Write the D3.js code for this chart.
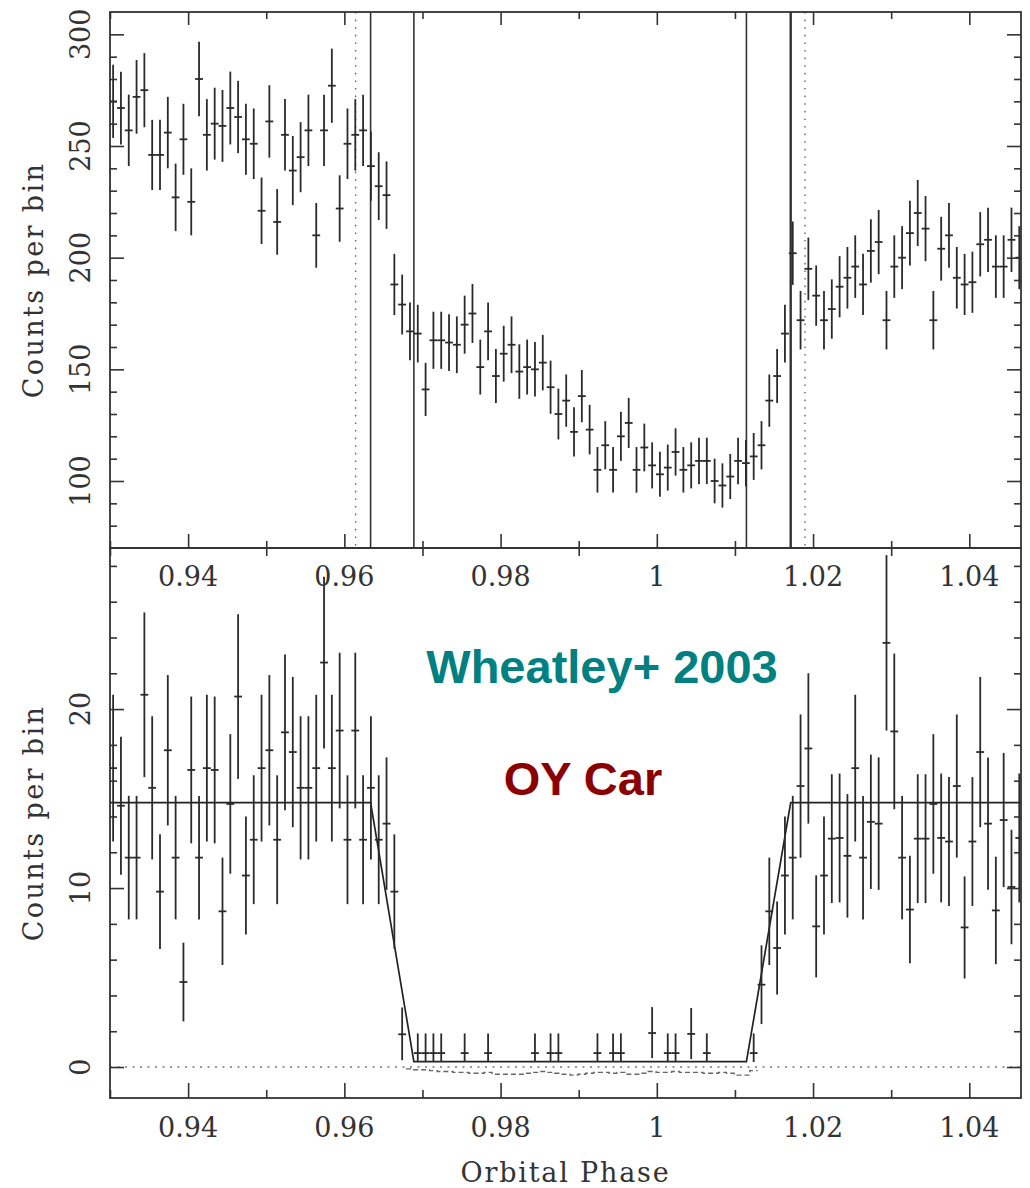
<!DOCTYPE html>
<html>
<head>
<meta charset="utf-8">
<script src="https://cdn.jsdelivr.net/npm/d3@7"></script>
<style>
  html, body { margin: 0; padding: 0; background: #fff; }
  svg { display: block; }
  .tick-label { font-family: "DejaVu Serif", serif; font-size: 27px; fill: #333; }
  .axis-title { font-family: "DejaVu Serif", serif; font-size: 27px; fill: #333; }
</style>
</head>
<body>
<svg id="chart" width="1030" height="1188"></svg>
<script>
// ---------- DATA ----------
// bin centres: orbital phase, first bin and bin width (bins are contiguous)
const binStart = 0.9304;
const binWidth = 0.001;

// Upper panel: counts per bin (0.9304 ... 1.0464)
const topCounts = [
  270, 267, 257, 272, 275, 246, 246, 256, 227, 253,
  225, 280, 255, 260, 259, 267, 263, 253, 251, 221,
  261, 216, 255, 239, 245, 257, 210, 257, 277, 222,
  251, 255, 257, 241, 232, 228, 188, 179, 167, 166,
  141, 163, 163, 162, 161, 170, 175, 151, 167, 147,
  157, 161, 149, 151, 150, 153, 142, 130, 136, 122,
  138, 123, 105, 116, 105, 120, 126, 105, 115, 107,
  103, 106, 113, 105, 107, 109, 109, 100, 98, 102,
  109, 108, 111, 116, 136, 147, 166, 202, 172, 195,
  183, 172, 177, 187, 191, 196, 188, 203, 207, 172,
  196, 200, 211, 220, 213, 172, 204, 210, 191, 188,
  189, 206, 208, 196, 196, 208, 200
];
const topErr = [
  16.4, 16.3, 16.0, 16.5, 16.6, 15.7, 15.7, 16.0, 15.1, 15.9,
  15.0, 16.7, 16.0, 16.1, 16.1, 16.3, 16.2, 15.9, 15.8, 14.9,
  16.2, 14.7, 16.0, 15.5, 15.7, 16.0, 14.5, 16.0, 16.6, 14.9,
  15.8, 16.0, 16.0, 15.5, 15.2, 15.1, 13.7, 13.4, 12.9, 12.9,
  11.9, 12.8, 12.8, 12.7, 12.7, 13.0, 13.2, 12.3, 12.9, 12.1,
  12.5, 12.7, 12.2, 12.3, 12.2, 12.4, 11.9, 11.4, 11.7, 11.0,
  11.7, 11.1, 10.2, 10.8, 10.2, 11.0, 11.2, 10.2, 10.7, 10.3,
  10.1, 10.3, 10.6, 10.2, 10.3, 10.4, 10.4, 10.0, 9.9, 10.1,
  10.4, 10.4, 10.5, 10.8, 11.7, 12.1, 12.9, 14.2, 13.1, 14.0,
  13.5, 13.1, 13.3, 13.7, 13.8, 14.0, 13.7, 14.2, 14.4, 13.1,
  14.0, 14.1, 14.5, 14.8, 14.6, 13.1, 14.3, 14.5, 13.8, 13.7,
  13.7, 14.4, 14.4, 14.0, 14.0, 14.4, 14.1
];

// Lower panel: counts per bin (null = empty bin, not plotted)
const botCounts = [
  16.7, 14.6, 11.7, 11.7, 20.8, 15.6, 9.8, 17.7, 11.7, 4.75,
  16.6, 11.7, 16.7, 16.6, 8.7, 14.7, 20.7, 10.7, 12.7, 16.7,
  17.7, 12.7, 18.7, 17.6, 15.6, 15.6, 16.7, 22.6, 16.7, 18.8,
  12.7, 18.8, 12.7, 15.6, 12.7, 13.6, 9.8, 1.83, null, 0.78,
  0.78, 0.78, 0.78, null, null, 0.78, null, null, 0.78, null,
  null, null, null, null, 0.78, null, 0.78, 0.78, null, null,
  null, null, 0.78, null, 0.78, 0.78, null, null, null, 1.9,
  null, 0.78, 0.78, null, 1.85, null, 0.78, null, null, null,
  null, null, 0.78, 4.6, 8.7, 6.65, 10.7, 11.7, 15.7, 17.8,
  7.86, 10.7, 12.76, 12.8, 11.8, 16.7, 11.7, 13.7, 13.6, 23.7,
  18.75, 11.7, 8.8, 12.76, 12.76, 14.7, 12.8, 12.6, 15.7, 7.8,
  12.6, 17.6, 13.6, 8.75, 13.8, 10.06, 12.8
];
const botErrUp = [
  4.1, 3.85, 3.45, 3.45, 4.6, 4.0, 3.2, 4.2, 3.45, 2.2,
  4.1, 3.45, 4.1, 4.1, 3.0, 3.9, 4.6, 3.3, 3.6, 4.1,
  4.2, 3.6, 4.35, 4.2, 4.0, 4.0, 4.1, 4.8, 4.1, 4.35,
  3.6, 4.35, 3.6, 4.0, 3.6, 3.7, 3.2, 1.5, null, 1.1,
  1.1, 1.1, 1.1, null, null, 1.1, null, null, 1.1, null,
  null, null, null, null, 1.1, null, 1.1, 1.1, null, null,
  null, null, 1.1, null, 1.1, 1.1, null, null, null, 1.45,
  null, 1.1, 1.1, null, 1.45, null, 1.1, null, null, null,
  null, null, 1.1, 2.2, 3.0, 2.6, 3.3, 3.45, 4.0, 4.2,
  2.85, 3.3, 3.6, 3.6, 3.45, 4.1, 3.45, 3.75, 3.7, 4.9,
  4.35, 3.45, 3.0, 3.6, 3.6, 3.9, 3.6, 3.6, 4.0, 2.85,
  3.6, 4.2, 3.7, 3.0, 3.75, 3.2, 3.6
];
const botErrDown = [
  4.1, 3.85, 3.45, 3.45, 4.6, 4.0, 3.2, 4.2, 3.45, 2.2,
  4.1, 3.45, 4.1, 4.1, 3.0, 3.9, 4.6, 3.3, 3.6, 4.1,
  4.2, 3.6, 4.35, 4.2, 4.0, 4.0, 4.1, 4.8, 4.1, 4.35,
  3.6, 4.35, 3.6, 4.0, 3.6, 3.7, 3.2, 1.45, null, 0.5,
  0.5, 0.5, 0.5, null, null, 0.5, null, null, 0.5, null,
  null, null, null, null, 0.5, null, 0.5, 0.5, null, null,
  null, null, 0.5, null, 0.5, 0.5, null, null, null, 1.4,
  null, 0.5, 0.5, null, 1.4, null, 0.5, null, null, null,
  null, null, 0.5, 2.2, 3.0, 2.6, 3.3, 3.45, 4.0, 4.2,
  2.85, 3.3, 3.6, 3.6, 3.45, 4.1, 3.45, 3.75, 3.7, 4.9,
  4.35, 3.45, 3.0, 3.6, 3.6, 3.9, 3.6, 3.6, 4.0, 2.85,
  3.6, 4.2, 3.7, 3.0, 3.75, 3.2, 3.6
];

// Eclipse model (lower panel): phase / level
const modelPhase = [0.93, 0.96336, 0.9689, 1.01147, 1.01714, 1.0466];
const modelLevel = [14.77, 14.77, 0.3, 0.3, 14.77, 14.77];

// Dashed background level during totality (bins 38 ... 82)
const bgFirstBin = 38;
const bgLevel = [
  -0.1, -0.15, -0.15, -0.2, -0.25, -0.25, -0.3, -0.3, -0.35, -0.35,
  -0.3, -0.4, -0.4, -0.4, -0.4, -0.35, -0.3, -0.25, -0.3, -0.35,
  -0.4, -0.45, -0.4, -0.35, -0.3, -0.3, -0.35, -0.3, -0.4, -0.4,
  -0.35, -0.25, -0.3, -0.3, -0.25, -0.3, -0.3, -0.3, -0.35, -0.35,
  -0.3, -0.35, -0.45, -0.45, -0.2
];

// Contact phases (upper panel): solid and dotted markers
const contactSolid = [0.96336, 0.9689, 1.01147, 1.01714];
const contactDotted = [0.96144, 1.01897];

// Axis ticks
const xMajor = [0.94, 0.96, 0.98, 1.00, 1.02, 1.04];
const xMajorLabels = ["0.94", "0.96", "0.98", "1", "1.02", "1.04"];
const xMinor = [0.93, 0.95, 0.97, 0.99, 1.01, 1.03];
const yTopMajor = [100, 150, 200, 250, 300];
const yTopMinor = [80, 90, 110, 120, 130, 140, 160, 170, 180, 190, 210, 220, 230, 240, 260, 270, 280, 290];
const yBotMajor = [0, 10, 20];
const yBotMinor = [2, 4, 6, 8, 12, 14, 16, 18, 22, 24, 26, 28];

const yTitle = "Counts per bin";
const xTitle = "Orbital Phase";
const note1 = "Wheatley+ 2003";
const note2 = "OY Car";

// ---------- LAYOUT ----------
const L = 110, R = 1021;
const topT = 12, topB = 548, botT = 548, botB = 1098;

const svg = d3.select("#chart");
const x = d3.scaleLinear().domain([0.93, 1.04662]).range([L, R]);
const yTop = d3.scaleLinear().domain([70, 310]).range([topB, topT]);
const yBot = d3.scaleLinear().domain([-1.73, 29]).range([botB, botT]);

const phases = topCounts.map((_, i) => binStart + i * binWidth);

const defs = svg.append("defs");
defs.append("clipPath").attr("id", "clipTop").append("rect")
  .attr("x", L).attr("y", topT).attr("width", R - L).attr("height", topB - topT);
defs.append("clipPath").attr("id", "clipBot").append("rect")
  .attr("x", L).attr("y", botT).attr("width", R - L).attr("height", botB - botT);

const ink = "#2a2a2a";
const barW = 1.8;

function ticksAxis(gen, tf, vals, size) {
  const g = svg.append("g").attr("transform", tf)
    .call(gen.tickValues(vals).tickSize(size).tickFormat(""));
  g.select(".domain").remove();
  g.selectAll(".tick line").attr("stroke", "#333").attr("stroke-width", 1.6);
  return g;
}

// ---------- TOP PANEL ----------
const gTop = svg.append("g").attr("clip-path", "url(#clipTop)");

// contact lines
gTop.selectAll("line.solid").data(contactSolid).join("line")
  .attr("x1", d => x(d)).attr("x2", d => x(d))
  .attr("y1", topT).attr("y2", topB)
  .attr("stroke", "#333").attr("stroke-width", (d, i) => i === 3 ? 2.4 : 1.6);
gTop.selectAll("line.dot").data(contactDotted).join("line")
  .attr("x1", d => x(d)).attr("x2", d => x(d))
  .attr("y1", topT).attr("y2", topB)
  .attr("stroke", "#666").attr("stroke-width", 1.4)
  .attr("stroke-dasharray", "1.6,6");

const topPts = topCounts.map((v, i) => ({ p: phases[i], v, e: topErr[i] }));
gTop.selectAll("line.ev").data(topPts).join("line")
  .attr("x1", d => x(d.p)).attr("x2", d => x(d.p))
  .attr("y1", d => yTop(d.v - d.e)).attr("y2", d => yTop(d.v + d.e))
  .attr("stroke", ink).attr("stroke-width", barW);
gTop.selectAll("line.eh").data(topPts).join("line")
  .attr("x1", d => x(d.p - binWidth / 2)).attr("x2", d => x(d.p + binWidth / 2))
  .attr("y1", d => yTop(d.v)).attr("y2", d => yTop(d.v))
  .attr("stroke", ink).attr("stroke-width", barW);

// ---------- BOTTOM PANEL ----------
const gBot = svg.append("g").attr("clip-path", "url(#clipBot)");

// zero line (dotted)
gBot.append("line")
  .attr("x1", L).attr("x2", R).attr("y1", yBot(0)).attr("y2", yBot(0))
  .attr("stroke", "#777").attr("stroke-width", 1.4).attr("stroke-dasharray", "2,5.5");

// dashed background step line during totality
const bgPts = [];
bgLevel.forEach((v, j) => {
  const p = phases[bgFirstBin + j];
  bgPts.push([p - binWidth / 2, v], [p + binWidth / 2, v]);
});
gBot.append("path")
  .attr("d", d3.line().x(d => x(d[0])).y(d => yBot(d[1]))(bgPts))
  .attr("fill", "none").attr("stroke", "#666").attr("stroke-width", 1.4)
  .attr("stroke-dasharray", "5,3");

// model
gBot.append("path")
  .attr("d", d3.line().x(d => x(d[0])).y(d => yBot(d[1]))(modelPhase.map((p, i) => [p, modelLevel[i]])))
  .attr("fill", "none").attr("stroke", "#222").attr("stroke-width", 1.7);

const botPts = botCounts.map((v, i) => ({ p: phases[i], v, eu: botErrUp[i], ed: botErrDown[i] }))
  .filter(d => d.v !== null);
gBot.selectAll("line.ev").data(botPts).join("line")
  .attr("x1", d => x(d.p)).attr("x2", d => x(d.p))
  .attr("y1", d => yBot(d.v - d.ed)).attr("y2", d => yBot(d.v + d.eu))
  .attr("stroke", ink).attr("stroke-width", barW);
gBot.selectAll("line.eh").data(botPts).join("line")
  .attr("x1", d => x(d.p - binWidth / 2)).attr("x2", d => x(d.p + binWidth / 2))
  .attr("y1", d => yBot(d.v)).attr("y2", d => yBot(d.v))
  .attr("stroke", ink).attr("stroke-width", barW);

// ---------- FRAMES & TICKS ----------
[[topT, topB], [botT, botB]].forEach(([t, b]) => {
  svg.append("rect").attr("x", L).attr("y", t).attr("width", R - L).attr("height", b - t)
    .attr("fill", "none").attr("stroke", "#333").attr("stroke-width", 1.8);
});

// top panel
ticksAxis(d3.axisBottom(x), `translate(0,${topT})`, xMajor, 13);
ticksAxis(d3.axisBottom(x), `translate(0,${topT})`, xMinor, 7);
ticksAxis(d3.axisTop(x), `translate(0,${topB})`, xMajor, 14);
ticksAxis(d3.axisTop(x), `translate(0,${topB})`, xMinor, 7);
ticksAxis(d3.axisRight(yTop), `translate(${L},0)`, yTopMajor, 14);
ticksAxis(d3.axisRight(yTop), `translate(${L},0)`, yTopMinor, 7);
ticksAxis(d3.axisLeft(yTop), `translate(${R},0)`, yTopMajor, 14);
ticksAxis(d3.axisLeft(yTop), `translate(${R},0)`, yTopMinor, 7);

// bottom panel
ticksAxis(d3.axisBottom(x), `translate(0,${botT})`, xMinor, 8);
ticksAxis(d3.axisTop(x), `translate(0,${botB})`, xMajor, 15);
ticksAxis(d3.axisTop(x), `translate(0,${botB})`, xMinor, 8);
ticksAxis(d3.axisRight(yBot), `translate(${L},0)`, yBotMajor, 14);
ticksAxis(d3.axisRight(yBot), `translate(${L},0)`, yBotMinor, 7);
ticksAxis(d3.axisLeft(yBot), `translate(${R},0)`, yBotMajor, 14);
ticksAxis(d3.axisLeft(yBot), `translate(${R},0)`, yBotMinor, 7);

// ---------- LABELS ----------
[[586], [1137]].forEach(([by]) => {
  svg.append("g").selectAll("text").data(xMajor).join("text")
    .attr("class", "tick-label")
    .attr("x", d => x(d)).attr("y", by)
    .attr("text-anchor", "middle")
    .text((d, i) => xMajorLabels[i]);
});

svg.append("g").selectAll("text").data(yTopMajor).join("text")
  .attr("class", "tick-label")
  .attr("transform", d => `translate(90,${yTop(d)}) rotate(-90)`)
  .attr("text-anchor", "middle")
  .text(d => d);
svg.append("g").selectAll("text").data(yBotMajor).join("text")
  .attr("class", "tick-label")
  .attr("transform", d => `translate(90,${yBot(d)}) rotate(-90)`)
  .attr("text-anchor", "middle")
  .text(d => d);

[(topT + topB) / 2, (botT + botB) / 2].forEach(cy => {
  svg.append("text").attr("class", "axis-title")
    .attr("transform", `translate(43,${cy}) rotate(-90)`)
    .attr("text-anchor", "middle")
    .style("letter-spacing", "2.4px")
    .text(yTitle);
});

svg.append("text").attr("class", "axis-title")
  .attr("x", (L + R) / 2).attr("y", 1182)
  .attr("text-anchor", "middle")
  .style("letter-spacing", "1.8px")
  .text(xTitle);

svg.append("text")
  .attr("x", 602).attr("y", 683).attr("text-anchor", "middle")
  .style("font-family", "'Liberation Sans', Arial, sans-serif")
  .style("font-weight", "bold").style("font-size", "47px")
  .attr("fill", "#008080")
  .text(note1);
svg.append("text")
  .attr("x", 583).attr("y", 795).attr("text-anchor", "middle")
  .style("font-family", "'Liberation Sans', Arial, sans-serif")
  .style("font-weight", "bold").style("font-size", "47px")
  .attr("fill", "#8b0000")
  .text(note2);
</script>
</body>
</html>
